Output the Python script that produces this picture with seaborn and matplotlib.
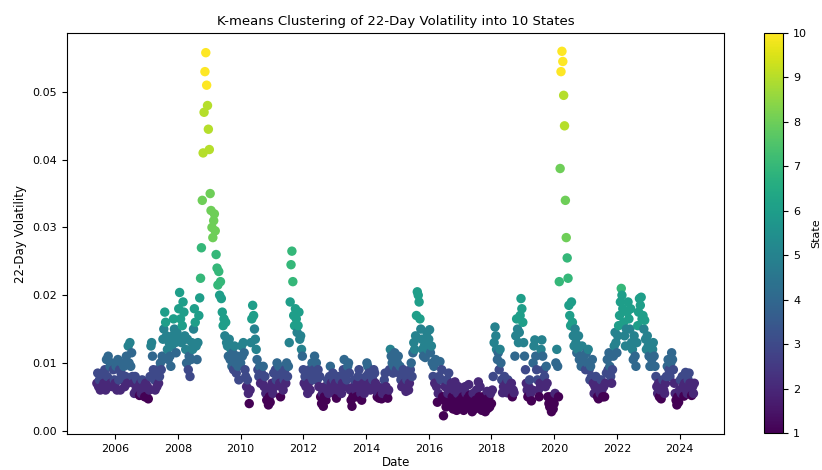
import numpy as np
import pandas as pd
import matplotlib
matplotlib.use("Agg")
import matplotlib.pyplot as plt
import matplotlib.dates as mdates
from matplotlib.cm import ScalarMappable
from matplotlib.colors import Normalize
import seaborn as sns

# 22-day volatility, in units of 1e-3,
# three readings per month (around the 1st, 11th and 21st)
SAMPLE_DAYS = [1, 11, 21]

vol_2005 = [7.0, 8.5, 6.5, 7.5, 6.0, 8.0, 6.5, 8.5, 7.0, 9.0, 6.0, 10.5,
            8.0, 11.0, 6.5, 9.5, 7.0, 10.0, 6.5, 9.0, 7.5]  # Jun-Dec
vol_2006 = [7.0, 9.5, 6.0, 10.5, 7.5, 9.0, 6.0, 8.5, 10.0, 7.5, 9.5, 6.5,
            8.0, 11.0, 7.0, 12.5, 10.0, 13.0, 9.5, 11.5, 8.0, 7.0, 5.5, 8.0,
            6.0, 7.5, 5.5, 6.5, 5.2, 7.0, 5.5, 7.5, 6.0, 6.5, 5.0, 7.0]
vol_2007 = [5.0, 6.5, 4.7, 6.0, 8.0, 12.5, 13.0, 11.0, 9.0, 7.5, 6.0, 8.5,
            6.5, 9.0, 7.0, 8.0, 10.0, 9.0, 11.0, 13.5, 15.0, 17.5, 16.0, 14.0,
            12.0, 10.5, 13.0, 11.0, 9.5, 12.5, 14.0, 16.5, 15.0, 13.0, 11.5, 14.5]
vol_2008 = [14.0, 18.0, 20.4, 16.5, 13.0, 15.5, 19.0, 17.5, 14.0, 12.0, 10.0, 13.5,
            9.0, 11.0, 8.0, 10.5, 13.0, 12.0, 15.0, 18.0, 16.0, 12.5, 10.5, 13.0,
            17.0, 19.6, 22.5, 27.0, 34.0, 41.0, 47.0, 53.0, 55.8, 51.0, 48.0, 44.5]
vol_2009 = [41.5, 35.0, 32.5, 30.0, 28.5, 31.0, 32.0, 29.5, 26.0, 24.0, 21.5, 23.5,
            20.0, 22.0, 19.5, 17.5, 15.5, 16.5, 14.0, 16.0, 13.0, 12.5, 11.0, 13.5,
            10.5, 12.0, 9.5, 11.5, 9.0, 12.5, 10.0, 8.5, 11.0, 9.5, 7.5, 10.0]
vol_2010 = [10.0, 12.5, 11.0, 13.0, 11.5, 9.0, 8.0, 6.5, 7.5, 5.5, 4.0, 6.0,
            13.0, 16.5, 18.5, 17.0, 15.0, 13.5, 12.0, 10.5, 9.0, 8.0, 9.5, 7.0,
            8.5, 7.0, 9.5, 6.5, 8.0, 5.5, 4.5, 6.0, 3.8, 5.0, 4.2, 6.5]
vol_2011 = [7.0, 5.5, 8.5, 6.5, 9.0, 7.5, 10.0, 8.0, 9.5, 7.0, 5.0, 6.5,
            8.5, 6.0, 7.5, 9.0, 7.0, 10.0, 8.0, 9.5, 13.0, 19.0, 24.5, 26.5,
            22.0, 17.0, 15.5, 18.0, 16.5, 14.5, 15.5, 17.5, 13.5, 14.0, 12.0, 11.0]
vol_2012 = [9.0, 7.0, 8.0, 6.5, 8.5, 5.5, 7.0, 9.0, 6.0, 8.0, 10.0, 7.5,
            9.0, 11.0, 8.5, 10.0, 7.5, 9.0, 6.5, 8.0, 5.0, 4.0, 5.5, 3.6,
            5.0, 6.5, 4.5, 6.0, 7.5, 5.5, 8.0, 9.5, 7.0, 6.5, 8.5, 7.5]
vol_2013 = [5.5, 7.0, 4.8, 6.0, 8.0, 6.5, 7.5, 6.0, 5.5, 7.0, 9.0, 10.5,
            8.0, 6.5, 7.5, 9.5, 10.0, 8.5, 6.0, 4.5, 3.6, 5.0, 6.5, 7.5,
            6.0, 5.0, 7.0, 8.0, 9.0, 6.5, 5.5, 4.5, 6.0, 7.0, 5.5, 6.5]
vol_2014 = [8.0, 10.0, 9.5, 8.5, 7.0, 6.0, 6.5, 8.0, 7.5, 9.0, 8.5, 7.0,
            6.0, 5.0, 5.5, 4.8, 6.0, 5.2, 4.7, 5.5, 6.5, 7.5, 8.5, 6.5,
            5.5, 4.8, 6.0, 9.0, 12.0, 11.0, 10.0, 8.5, 9.5, 11.5, 10.5, 9.0]
vol_2015 = [10.0, 11.0, 8.5, 9.5, 7.5, 6.5, 8.0, 9.0, 7.0, 6.5, 5.8, 7.5,
            8.5, 6.0, 7.0, 9.0, 10.0, 8.0, 11.5, 13.0, 12.0, 14.0, 17.0, 20.5,
            20.0, 19.0, 16.5, 15.0, 13.5, 12.0, 11.0, 12.5, 10.8, 13.0, 14.5, 12.0]
vol_2016 = [13.5, 14.9, 11.5, 12.5, 10.0, 8.0, 9.5, 7.0, 10.5, 6.5, 4.2, 5.5,
            8.0, 10.2, 7.5, 9.0, 5.0, 2.2, 4.5, 6.5, 3.5, 7.5, 5.5, 8.5,
            6.0, 4.0, 7.0, 5.0, 3.2, 6.0, 7.2, 4.5, 3.0, 5.5, 6.5, 4.0]
vol_2017 = [4.5, 6.0, 3.5, 5.0, 3.0, 4.2, 6.5, 5.5, 3.8, 4.8, 6.8, 5.2,
            3.5, 4.5, 2.8, 5.5, 4.0, 3.2, 4.5, 6.0, 3.6, 7.2, 5.0, 6.5,
            4.2, 3.0, 5.0, 3.5, 4.6, 2.8, 4.0, 5.8, 3.3, 4.8, 3.5, 5.5]
vol_2018 = [4.0, 6.0, 8.0, 13.0, 15.3, 14.0, 12.0, 10.5, 11.5, 9.0, 12.0, 10.0,
            7.5, 5.6, 6.5, 8.0, 6.0, 7.0, 5.6, 7.5, 6.0, 6.5, 5.5, 7.0,
            5.0, 6.0, 5.6, 11.0, 14.0, 16.5, 15.0, 13.0, 14.5, 17.0, 19.5, 18.0]
vol_2019 = [16.0, 13.0, 11.0, 9.0, 7.0, 6.0, 5.0, 6.5, 7.5, 5.5, 4.4, 6.0,
            10.0, 12.5, 13.4, 11.0, 9.0, 7.5, 6.0, 5.0, 7.0, 12.0, 13.4, 11.0,
            9.0, 8.0, 6.5, 9.5, 7.0, 5.0, 4.0, 3.5, 5.0, 2.8, 4.5, 3.2]
vol_2020 = [4.0, 5.5, 10.0, 12.0, 9.5, 5.0, 22.0, 38.7, 53.0, 56.0, 54.5, 49.5,
            45.0, 34.0, 28.5, 25.5, 22.5, 18.5, 17.0, 15.5, 19.0, 16.0, 14.0, 12.5,
            15.0, 13.0, 11.5, 12.0, 14.0, 10.5, 11.0, 9.5, 12.5, 10.0, 11.0, 9.5]
vol_2021 = [9.0, 11.5, 10.0, 12.0, 9.0, 7.5, 9.5, 8.0, 10.5, 7.0, 5.5, 6.5,
            8.0, 6.0, 5.0, 4.7, 6.5, 5.5, 7.5, 6.0, 5.0, 6.5, 5.0, 7.0,
            8.5, 10.5, 9.0, 11.5, 9.5, 8.0, 7.0, 9.0, 11.0, 12.5, 14.5, 13.0]
vol_2022 = [11.5, 14.0, 15.5, 17.0, 19.0, 21.0, 20.0, 18.0, 16.0, 14.0, 12.5, 15.0,
            17.5, 19.0, 16.5, 15.0, 18.0, 13.0, 12.0, 10.5, 14.0, 11.0, 9.5, 13.0,
            15.5, 17.5, 19.5, 18.5, 19.7, 16.5, 17.0, 15.0, 16.3, 13.5, 12.0, 14.0]
vol_2023 = [12.5, 11.0, 9.5, 9.5, 10.5, 12.0, 13.0, 11.0, 9.5, 8.0, 6.5, 5.5,
            7.0, 5.0, 6.0, 4.7, 6.5, 7.5, 6.0, 5.5, 7.0, 8.0, 9.5, 10.5,
            9.0, 8.0, 10.0, 11.5, 10.5, 9.0, 7.0, 5.5, 4.5, 3.8, 5.0, 4.2]
vol_2024 = [6.0, 7.5, 5.5, 8.0, 6.5, 5.1, 7.0, 8.6, 6.0, 5.5, 7.5, 8.5,
            7.0, 6.0, 5.2, 6.5, 5.5, 7.0]  # Jan-Jun

# upper edges of k-means states 1..9 (1e-3 units); above the last is state 10
STATE_EDGES = [5.3, 7.3, 9.3, 12.0, 15.5, 21.0, 28.0, 39.5, 51.0]

yearly = [(2005, 6, vol_2005), (2006, 1, vol_2006), (2007, 1, vol_2007),
          (2008, 1, vol_2008), (2009, 1, vol_2009), (2010, 1, vol_2010),
          (2011, 1, vol_2011), (2012, 1, vol_2012), (2013, 1, vol_2013),
          (2014, 1, vol_2014), (2015, 1, vol_2015), (2016, 1, vol_2016),
          (2017, 1, vol_2017), (2018, 1, vol_2018), (2019, 1, vol_2019),
          (2020, 1, vol_2020), (2021, 1, vol_2021), (2022, 1, vol_2022),
          (2023, 1, vol_2023), (2024, 1, vol_2024)]

dates, vols = [], []
for year, first_month, vals in yearly:
    for i, v in enumerate(vals):
        month = first_month + i // len(SAMPLE_DAYS)
        day = SAMPLE_DAYS[i % len(SAMPLE_DAYS)]
        dates.append(pd.Timestamp(year=year, month=month, day=day))
        vols.append(v / 1000.0)

df = pd.DataFrame({"Date": dates, "Volatility": vols})
df["State"] = np.digitize(df["Volatility"] * 1000.0, STATE_EDGES) + 1

fig = plt.figure(figsize=(8.22, 4.70), dpi=100)
ax = fig.add_axes([0.0815, 0.0766, 0.7995, 0.853])
cax = fig.add_axes([0.93, 0.0787, 0.023, 0.851])

sns.scatterplot(data=df, x="Date", y="Volatility", hue="State",
                palette="viridis", hue_norm=(1, 10), s=46,
                edgecolor="none", linewidth=0, legend=False, ax=ax)

ax.xaxis.set_major_locator(mdates.YearLocator(2))
ax.xaxis.set_major_formatter(mdates.DateFormatter("%Y"))
ax.tick_params(labelsize=8)
ax.set_xlabel("Date", fontsize=8.5, labelpad=2)
ax.set_ylabel("22-Day Volatility", fontsize=8.5)
ax.set_title("K-means Clustering of 22-Day Volatility into 10 States",
             fontsize=9.5, pad=6)

sm = ScalarMappable(norm=Normalize(1, 10), cmap="viridis")
cb = fig.colorbar(sm, cax=cax)
cb.set_label("State", fontsize=8, labelpad=3)
cb.ax.tick_params(labelsize=8)

fig.savefig("out.png", dpi=100)
